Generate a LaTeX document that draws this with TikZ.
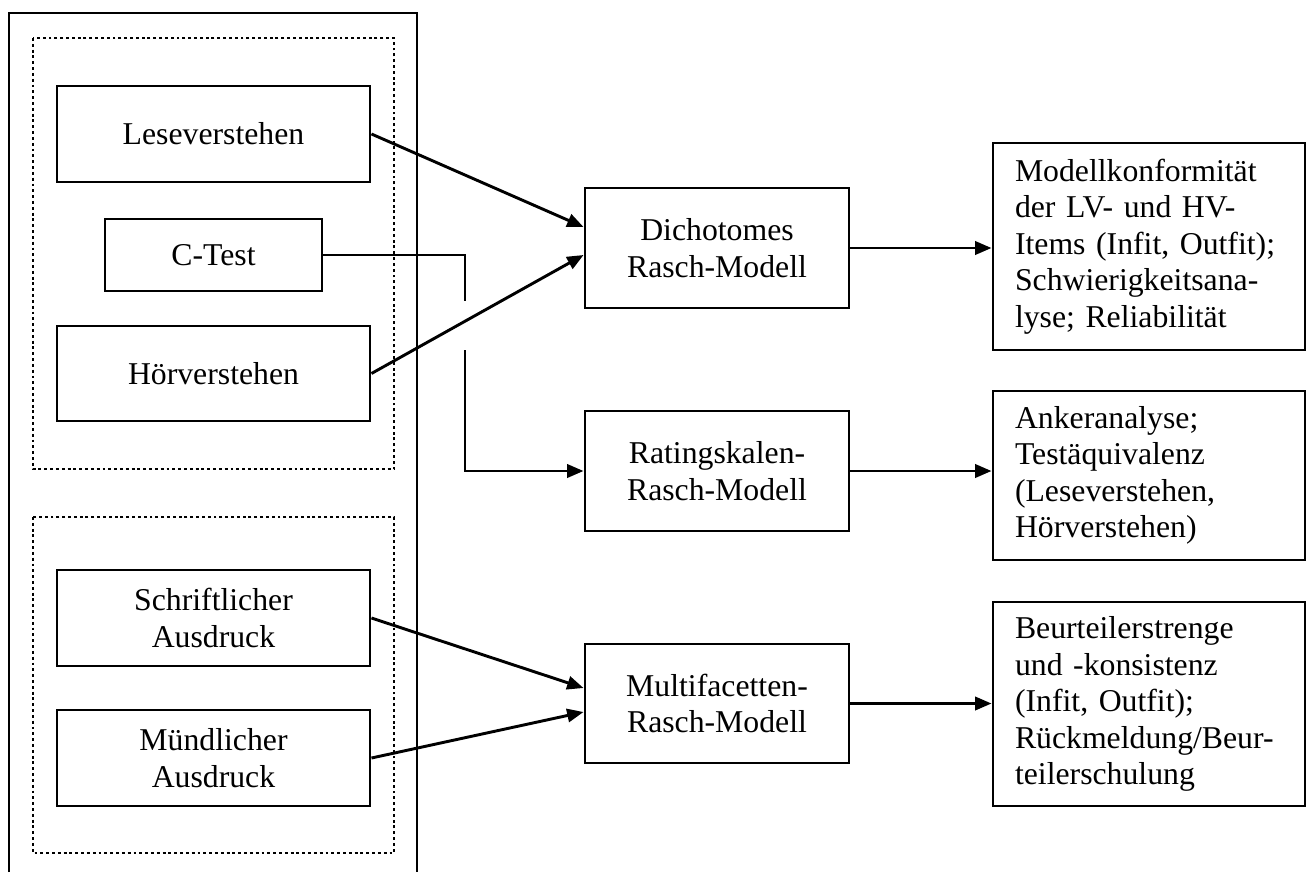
\documentclass[tikz,border=0pt]{standalone}
\usepackage{fontspec}
\setmainfont{Liberation Serif}
\usetikzlibrary{arrows.meta, positioning, calc}

\begin{document}
\begin{tikzpicture}[
    x=0.378pt, y=-0.378pt,
    box/.style 2 args={rectangle, draw=black, line width=1.1pt, align=center,
        minimum width=#1*0.378pt, minimum height=#2*0.378pt, inner sep=2pt},
    result/.style 2 args={rectangle, draw=black, line width=1.1pt, align=left,
        text width=268*0.378pt, inner xsep=22*0.378pt,
        minimum width=#1*0.378pt, minimum height=#2*0.378pt},
    group/.style={draw=black, line width=1.1pt, dash pattern=on 1.1pt off 1.1pt},
    edge/.style={-{Triangle[length=6.2pt,width=5pt]}, line width=1.1pt},
    every path/.style={line width=1.1pt},
    font=\fontsize{12}{13.8}\selectfont
]
\useasboundingbox (0,0) rectangle (1306,872);

% outer frame (open at the bottom)
\draw (9,872) -- (9,13) -- (417,13) -- (417,872);

% groups
\draw[group] (33,38) rectangle (394,469);
\draw[group] (33,517) rectangle (394,853);

% tests
\node[box={313}{96}] (lv) at (213.5,134) {Leseverstehen};
\node[box={217}{72}] (ct) at (213.5,255) {C-Test};
\node[box={313}{95}] (hv) at (213.5,373.5) {Hörverstehen};
\node[box={313}{96}] (sa) at (213.5,618) {Schriftlicher\\Ausdruck};
\node[box={313}{96}] (ma) at (213.5,758) {Mündlicher\\Ausdruck};

% models
\node[box={264}{120}] (dm) at (717,248) {Dichotomes\\Rasch-Modell};
\node[box={264}{120}] (rm) at (717,471) {Ratingskalen-\\Rasch-Modell};
\node[box={264}{119}] (mm) at (717,703.5) {Multifacetten-\\Rasch-Modell};

% analyses
\node[result={312}{207}] (r1) at (1149,246.5) {Modellkonformität\\der LV- und HV-\\Items (Infit, Outfit);\\Schwierigkeitsana-\\lyse; Reliabilität};
\node[result={312}{169}] (r2) at (1149,475.5) {Ankeranalyse;\\Testäquivalenz\\(Leseverstehen,\\Hörverstehen)};
\node[result={312}{204}] (r3) at (1149,704) {Beurteilerstrenge\\und -konsistenz\\(Infit, Outfit);\\Rückmeldung/Beur-\\teilerschulung};

% tests -> models
\draw[edge] (lv.east) -- ($(dm.west)+(0,-21)$);
\draw[edge] (hv.east) -- ($(dm.west)+(0,7)$);
\draw[edge] (sa.east) -- ($(mm.west)+(0,-15.5)$);
\draw[edge] (ma.east) -- ($(mm.west)+(0,8.5)$);

% C-Test, line broken where it crosses
\coordinate (ja) at (465,301);
\coordinate (jb) at (465,350);
\draw (ct.east) -| (ja);
\draw[edge] (jb) |- (rm.west);

% models -> analyses
\draw[edge] (dm.east) -- (dm.east -| r1.west);
\draw[edge] (rm.east) -- (rm.east -| r2.west);
\draw[edge] (mm.east) -- (mm.east -| r3.west);

\end{tikzpicture}
\end{document}
